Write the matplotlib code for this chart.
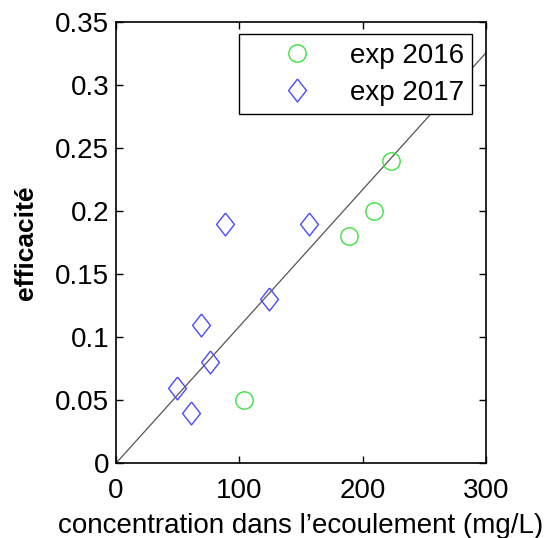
import numpy as np
import matplotlib.pyplot as plt

plt.rcParams['font.family'] = ['Liberation Sans', 'DejaVu Sans']

# data
x2016 = [104, 189, 209, 223]
y2016 = [0.05, 0.18, 0.20, 0.24]
x2017 = [49, 61, 69, 76, 88, 124, 156]
y2017 = [0.06, 0.04, 0.11, 0.08, 0.19, 0.13, 0.19]
slope = 0.001086  # fitted line through origin
xticks = [0, 100, 200, 300]
yticks = [0, 0.05, 0.1, 0.15, 0.2, 0.25, 0.3, 0.35]
ytick_labels = ['0', '0.05', '0.1', '0.15', '0.2', '0.25', '0.3', '0.35']

# matlab style diamond (a bit taller than wide)
diamond = [(0, 1), (0.78, 0), (0, -1), (-0.78, 0), (0, 1)]

fig = plt.figure(figsize=(5.5, 5.38), dpi=100)
ax = fig.add_axes([0.211, 0.139, 0.673, 0.820])

xl = np.array([0, 300])
ax.plot(xl, slope*xl, color='#555555', lw=0.9, zorder=1)
h1, = ax.plot(x2016, y2016, 'o', mfc='none', mec='#3ee03e', ms=12.5, mew=1.0, label='exp 2016')
h2, = ax.plot(x2017, y2017, marker=diamond, ls='none', mfc='none', mec='#4a4aff', ms=16.5, mew=1.0, label='exp 2017')

ax.set_xlim(0, 300)
ax.set_ylim(0, 0.35)
ax.set_xticks(xticks)
ax.set_yticks(yticks)
ax.set_yticklabels(ytick_labels)
ax.tick_params(direction='in', length=5, width=1, labelsize=20, top=True, right=True, pad=5)
ax.tick_params(axis='x', pad=11)
for s in ax.spines.values():
    s.set_linewidth(1.2)

ax.set_xlabel('concentration dans l\u2019ecoulement (mg/L)', fontsize=20, labelpad=6)
ax.set_ylabel('efficacité', fontsize=19, fontweight='bold', labelpad=12)

leg = ax.legend(handles=[h1, h2], loc='upper right', bbox_to_anchor=(0.962, 0.972),
                fontsize=20, frameon=True, fancybox=False, edgecolor='black',
                framealpha=1, borderpad=0.3, handlelength=3.6, handletextpad=0.1,
                labelspacing=0.4, borderaxespad=0)
leg.get_frame().set_linewidth(1.0)

plt.savefig('out.png', dpi=100)
